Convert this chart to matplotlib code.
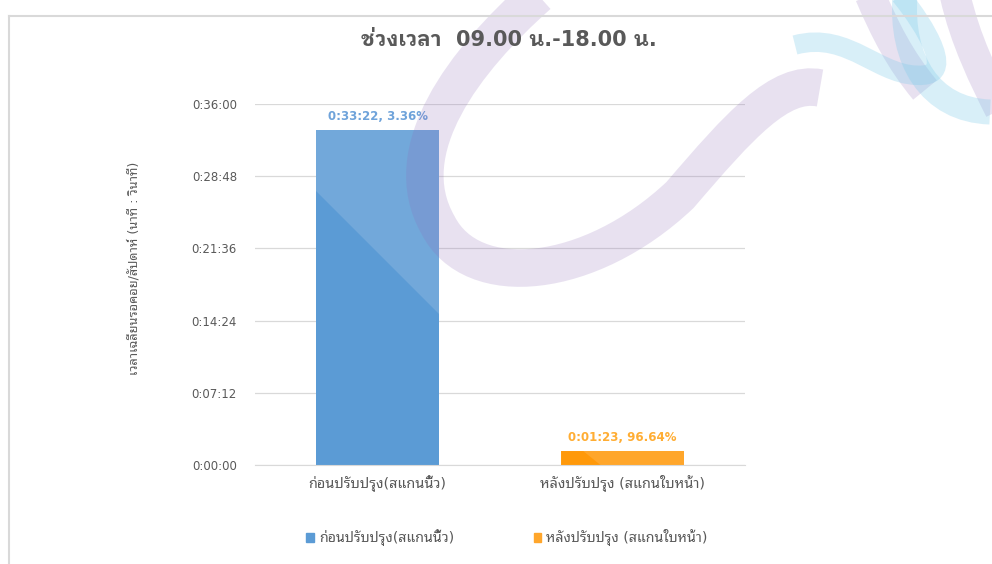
import matplotlib
matplotlib.use("Agg")
import matplotlib.pyplot as plt
import matplotlib.patches as patches
from matplotlib.path import Path
from matplotlib.lines import Line2D
from matplotlib.ticker import FuncFormatter

# data
categories = ["ก่อนปรับปรุง(สแกนนิ้ว)", "หลังปรับปรุง (สแกนใบหน้า)"]
wait_seconds = [2002, 83]            # 0:33:22 and 0:01:23
share_labels = ["3.36%", "96.64%"]
tick_seconds = [0, 432, 864, 1296, 1728, 2160]
title_text = "ช่วงเวลา  09.00 น.-18.00 น."
ylabel_text = "เวลาเฉลี่ยนรอคอย/สัปดาห์ (นาที : วินาที)"

bar_colors = ["#5B9BD5", "#FFA62B"]
shade_colors = ["#72A8DA", "#FF990A"]
label_colors = ["#6FA3DA", "#FFAD33"]
text_gray = "#595959"

plt.rcParams['font.family'] = ['DejaVu Sans', 'Noto Sans Thai Looped']

W, H = 992, 564

def px(x, y):
    # pixel position (from top-left) -> figure fraction
    return (x / W, 1 - y / H)

def hms(s, pos=None):
    s = int(round(s))
    return "%d:%02d:%02d" % (s // 3600, (s % 3600) // 60, s % 60)

fig = plt.figure(figsize=(9.92, 5.64), dpi=100)

# outer frame of the screenshot
fig.add_artist(Line2D([px(9, 0)[0], px(9, 0)[0]], [px(0, 16)[1], 0], color="#D9D9D9", lw=1.5, transform=fig.transFigure))
fig.add_artist(Line2D([px(9, 0)[0], 1], [px(0, 16)[1], px(0, 16)[1]], color="#D9D9D9", lw=1.5, transform=fig.transFigure))

ax = fig.add_axes([255 / W, 1 - 465 / H, 490 / W, 361 / H])
ax.patch.set_alpha(0)
bars = ax.bar([0, 1], wait_seconds, width=0.5, color=bar_colors, zorder=2)
ax.set_xlim(-0.5, 1.5)
ax.set_ylim(0, 2160)
ax.set_yticks(tick_seconds)
ax.yaxis.set_major_formatter(FuncFormatter(hms))
ax.set_xticks([0, 1])
ax.set_xticklabels(categories)
ax.tick_params(axis="both", length=0, colors=text_gray, labelsize=8.5)
ax.tick_params(axis="y", pad=13)
ax.tick_params(axis="x", pad=7, labelsize=10.4)
ax.grid(axis="y", color="#D9D9D9", lw=0.9, zorder=0)
for side in ["top", "right", "left"]:
    ax.spines[side].set_visible(False)
ax.spines["bottom"].set_color("#D9D9D9")
ax.set_ylabel(ylabel_text, color=text_gray, fontsize=9.2)
ax.yaxis.set_label_coords((140 - 255) / 490, (465 - 268) / 361)

# shading on the bars (lighter top-right on the blue, darker lower-left on the orange)
b0 = bars[0]
x0, w0, h0 = b0.get_x(), b0.get_width(), b0.get_height()
ax.add_patch(patches.Polygon([(x0, h0 * 0.82), (x0, h0), (x0 + w0, h0), (x0 + w0, h0 * 0.45)],
                             closed=True, color=shade_colors[0], lw=0, zorder=2.5))
b1 = bars[1]
x1, w1, h1 = b1.get_x(), b1.get_width(), b1.get_height()
ax.add_patch(patches.Polygon([(x1, 0), (x1, h1), (x1 + w1 * 0.18, h1), (x1 + w1 * 0.32, 0)],
                             closed=True, color=shade_colors[1], lw=0, zorder=2.5))

for i, b in enumerate(bars):
    ax.annotate(hms(wait_seconds[i]) + ", " + share_labels[i],
                (b.get_x() + b.get_width() / 2, b.get_height()),
                xytext=(0, 5), textcoords="offset points", ha="center", va="bottom",
                color=label_colors[i], fontsize=8.5, fontweight="bold")

fig.text(px(509, 0)[0], px(0, 40)[1], title_text, ha="center", va="center",
         fontsize=15, fontweight="bold", color=text_gray,
         family=['DejaVu Sans', 'IBM Plex Sans Thai Looped'])

handles = [patches.Patch(color=c) for c in bar_colors]
fig.legend(handles, categories, loc="center", bbox_to_anchor=px(507, 538), ncol=2,
           frameon=False, fontsize=10.2, handlelength=0.55, handleheight=0.55,
           handletextpad=0.35, columnspacing=5.6, labelcolor=text_gray)

# watermark swooshes
def swoosh(pts, color, width, alpha):
    codes = [Path.MOVETO] + [Path.CURVE4] * (len(pts) - 1)
    path = Path([px(x, y) for x, y in pts], codes)
    fig.add_artist(patches.PathPatch(path, fill=False, edgecolor=color, lw=width, alpha=alpha,
                                     capstyle="butt", transform=fig.transFigure, zorder=1))

purple = "#8E6BB8"
swoosh([(538, -5), (465, 60), (395, 150), (438, 225),
        (472, 292), (590, 280), (680, 195),
        (740, 125), (780, 80), (820, 88)], purple, 27, 0.2)
swoosh([(870, -5), (885, 30), (900, 60), (925, 90)], purple, 22, 0.2)
swoosh([(955, -5), (965, 40), (985, 80), (1000, 110)], purple, 22, 0.2)
blue = "#7FCBEA"
swoosh([(795, 45), (850, 30), (880, 80), (925, 75),
        (960, 70), (905, 0), (900, -5)], blue, 14, 0.3)
swoosh([(905, -5), (900, 60), (930, 110), (990, 112)], blue, 18, 0.3)

fig.savefig("out.png")
